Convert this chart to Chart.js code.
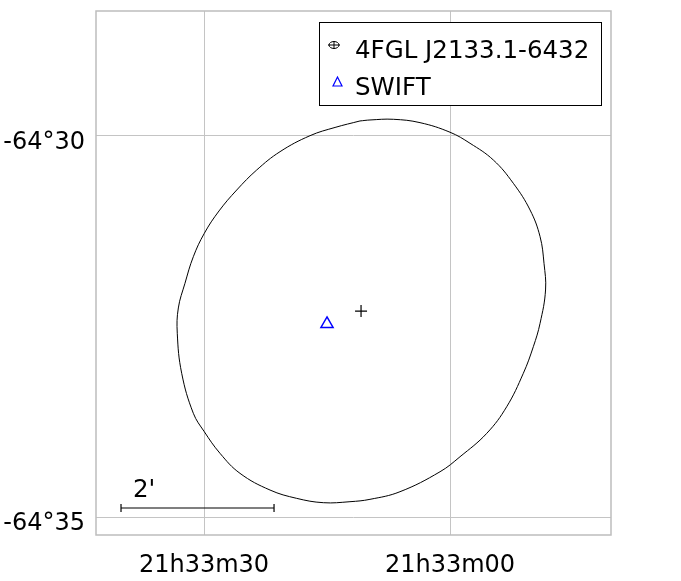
<!DOCTYPE html>
<html lang="en">

<head>
    <meta charset="UTF-8">
    <title>4FGL J2133.1-6432 finding chart</title>
    <script src="https://cdn.jsdelivr.net/npm/chart.js"></script>
    <style>
        body {
            margin: 0;
            background: #ffffff;
        }

        #wrap {
            width: 681px;
            height: 581px;
        }
    </style>
</head>

<body>
    <div id="wrap">
        <canvas id="skyChart" width="681" height="581"></canvas>
    </div>

    <script>
        // x = RA seconds past 21h33m00s, y = arcmin from -64°30'
        const xTicks = [30, 0];
        const xTickLabels = ['21h33m30', '21h33m00'];
        const yTicks = [0, -5];
        const yTickLabels = ['-64°30', '-64°35'];

        // 95% ellipse outline
        const ellipseRa = [10.98, 9.76, 6.91, 3.66, 0, -2.44, -5.28, -7.72, -9.76, -10.98, -11.46, -11.65,
            -10.98, -10.16, -8.94, -6.91, -4.48, -1.22, 1.22, 6.10, 9.76, 12.20, 15.45, 18.70, 21.95,
            25.61, 28.05, 29.96, 31.30, 32.72, 33.26, 33.13, 32.32, 31.30, 29.96, 28.17, 26.01, 23.57,
            20.73, 17.07, 14.02, 10.98];
        const ellipseDec = [0.197, 0.21, 0.219, 0.175, 0.049, -0.096, -0.315, -0.621, -0.971, -1.321, -1.671, -2.021,
            -2.458, -2.765, -3.114, -3.553, -3.902, -4.209, -4.406, -4.668, -4.768, -4.799, -4.812, -4.755, -4.646,
            -4.427, -4.164, -3.881, -3.639, -3.114, -2.589, -2.257, -1.933, -1.584, -1.277, -0.984, -0.709, -0.446,
            -0.206, 0.004, 0.112, 0.197];

        const fermiPos = [10.85, -2.297];
        const swiftPos = [15.0, -2.467];

        const scaleBarRa = [40.12, 21.46];
        const scaleBarDec = [-4.882, -4.882];
        const scaleBarLabel = "2'";

        const legendNames = ['4FGL J2133.1-6432', 'SWIFT'];

        const FONT = "24.5px 'DejaVu Sans', sans-serif";

        const overlay = {
            id: 'overlay',
            beforeDatasetsDraw(chart) {
                const { ctx, chartArea: a } = chart;
                ctx.save();
                ctx.strokeStyle = '#bdbdbd';
                ctx.lineWidth = 1.5;
                ctx.strokeRect(a.left, a.top, a.right - a.left, a.bottom - a.top);
                ctx.restore();
            },
            afterDraw(chart) {
                const { ctx } = chart;
                const xs = chart.scales.x, ys = chart.scales.y;
                ctx.save();
                ctx.font = FONT;
                ctx.fillStyle = '#000';
                ctx.textBaseline = 'middle';

                // scale bar label
                const lx = xs.getPixelForValue(scaleBarRa[0]);
                const ly = ys.getPixelForValue(scaleBarDec[0]);
                ctx.fillText(scaleBarLabel, lx + 12, ly - 17);

                // legend box
                ctx.fillStyle = '#fff';
                ctx.fillRect(319.5, 22.5, 282, 83);
                ctx.strokeStyle = '#000';
                ctx.lineWidth = 1;
                ctx.strokeRect(319.5, 22.5, 282, 83);
                ctx.fillStyle = '#000';
                ctx.fillText(legendNames[0], 355, 52);
                ctx.fillText(legendNames[1], 355, 89);

                // circle-cross symbol
                ctx.beginPath();
                ctx.ellipse(334, 45, 5, 3.5, 0, 0, Math.PI * 2);
                ctx.moveTo(328, 45);
                ctx.lineTo(340, 45);
                ctx.moveTo(334, 41);
                ctx.lineTo(334, 49);
                ctx.stroke();

                // triangle symbol
                ctx.strokeStyle = '#0000ff';
                ctx.lineWidth = 1.2;
                ctx.beginPath();
                ctx.moveTo(337.5, 77);
                ctx.lineTo(333, 86);
                ctx.lineTo(342, 86);
                ctx.closePath();
                ctx.stroke();
                ctx.restore();
            }
        };

        const ctx = document.getElementById('skyChart').getContext('2d');
        const skyChart = new Chart(ctx, {
            type: 'scatter',
            data: {
                datasets: [{
                    label: 'ellipse',
                    data: ellipseRa.map((r, i) => ({ x: r, y: ellipseDec[i] })),
                    showLine: true,
                    borderColor: '#000',
                    borderWidth: 1,
                    pointRadius: 0,
                    tension: 0.4
                }, {
                    label: legendNames[0],
                    data: [{ x: fermiPos[0], y: fermiPos[1] }],
                    pointStyle: 'cross',
                    pointRadius: 6,
                    borderColor: '#000',
                    borderWidth: 1.2
                }, {
                    label: legendNames[1],
                    data: [{ x: swiftPos[0], y: swiftPos[1] }],
                    pointStyle: 'triangle',
                    pointRadius: 7,
                    borderColor: '#0000ff',
                    backgroundColor: 'rgba(0,0,0,0)',
                    borderWidth: 1.5
                }, {
                    label: 'scale',
                    data: scaleBarRa.map((r, i) => ({ x: r, y: scaleBarDec[i] })),
                    showLine: true,
                    borderColor: '#000',
                    borderWidth: 1.2,
                    pointStyle: 'line',
                    rotation: 90,
                    pointRadius: 4
                }]
            },
            options: {
                responsive: false,
                animation: false,
                events: [],
                layout: { padding: { top: 11, right: 70, left: 0, bottom: 0 } },
                plugins: {
                    legend: { display: false },
                    tooltip: { enabled: false }
                },
                scales: {
                    x: {
                        type: 'linear',
                        reverse: true,
                        min: -19.63,
                        max: 43.17,
                        afterBuildTicks: s => { s.ticks = xTicks.map(v => ({ value: v })); },
                        afterFit: s => { s.height = 46; s.paddingLeft = 0; s.paddingRight = 0; },
                        grid: { color: '#c4c4c4', lineWidth: 1, drawTicks: false },
                        border: { display: false },
                        ticks: {
                            padding: 16,
                            color: '#000',
                            font: { family: "'DejaVu Sans', sans-serif", size: 24 },
                            callback: v => xTickLabels[xTicks.indexOf(v)]
                        }
                    },
                    y: {
                        type: 'linear',
                        min: -5.236,
                        max: 1.64,
                        afterBuildTicks: s => { s.ticks = yTicks.map(v => ({ value: v })); },
                        afterFit: s => { s.width = 96; s.paddingTop = 0; s.paddingBottom = 0; },
                        grid: { color: '#c4c4c4', lineWidth: 1, drawTicks: false },
                        border: { display: false },
                        ticks: {
                            padding: 11,
                            labelOffset: 7,
                            color: '#000',
                            font: { family: "'DejaVu Sans', sans-serif", size: 24 },
                            callback: v => yTickLabels[yTicks.indexOf(v)]
                        }
                    }
                }
            },
            plugins: [overlay]
        });
    </script>
</body>

</html>
